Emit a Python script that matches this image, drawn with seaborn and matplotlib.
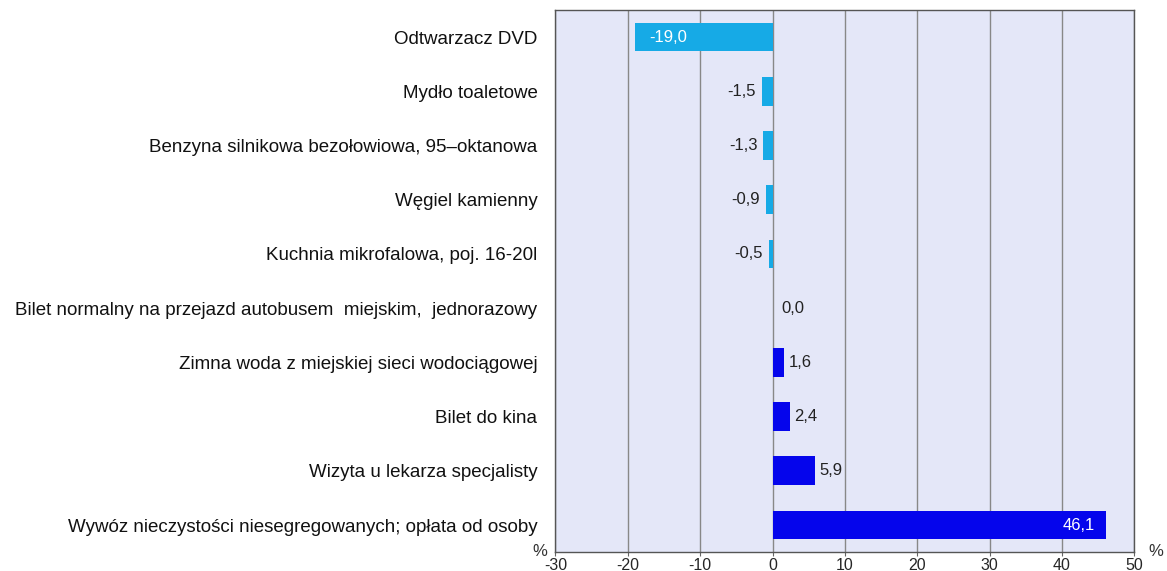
import pandas as pd
import seaborn as sns
import matplotlib.pyplot as plt

# price changes in %
categories = ['Odtwarzacz DVD', 'Mydło toaletowe',
              'Benzyna silnikowa bezołowiowa, 95–oktanowa', 'Węgiel kamienny',
              'Kuchnia mikrofalowa, poj. 16-20l',
              'Bilet normalny na przejazd autobusem  miejskim,  jednorazowy',
              'Zimna woda z miejskiej sieci wodociągowej', 'Bilet do kina',
              'Wizyta u lekarza specjalisty',
              'Wywóz nieczystości niesegregowanych; opłata od osoby']
values = [-19.0, -1.5, -1.3, -0.9, -0.5, 0.0, 1.6, 2.4, 5.9, 46.1]
xticks = [-30, -20, -10, 0, 10, 20, 30, 40, 50]

df = pd.DataFrame({'kategoria': categories, 'zmiana': values})
df['znak'] = ['spadek' if v < 0 else 'wzrost' for v in df['zmiana']]

sns.set_style('white')
plt.rcParams['font.family'] = ['Liberation Sans', 'DejaVu Sans']

fig = plt.figure(figsize=(11.67, 5.71), dpi=100)
ax = fig.add_axes([0.476, 0.033, 0.496, 0.9495])
ax.set_facecolor('#e4e7f8')

ax.grid(axis='x', color='#888888', linewidth=1)
ax.set_axisbelow(True)

sns.barplot(data=df, x='zmiana', y='kategoria', hue='znak', dodge=False,
            palette={'spadek': '#16aae6', 'wzrost': '#0505ec'},
            saturation=1, width=0.53, linewidth=0, legend=False, ax=ax)

ax.set_xlim(-30, 50)
ax.set_xticks(xticks)
ax.set_xticklabels([str(t) for t in xticks], fontsize=11.5)
ax.tick_params(axis='x', length=3, color='#666666', pad=1, bottom=True)
ax.tick_params(axis='y', length=0, labelsize=13.5, pad=13, labelcolor='#111111')
ax.set_xlabel('')
ax.set_ylabel('')
for s in ax.spines.values():
    s.set_color('#555555')
    s.set_linewidth(1)

for i, v in enumerate(values):
    txt = f'{v:.1f}'.replace('.', ',')
    if v <= -10:
        ax.text(v + 2.0, i, txt, color='white', va='center', ha='left', fontsize=12)
    elif v < 0:
        ax.text(v - 0.8, i, txt, color='#222222', va='center', ha='right', fontsize=12)
    elif v >= 10:
        ax.text(v - 1.5, i, txt, color='white', va='center', ha='right', fontsize=12)
    elif v == 0:
        ax.text(1.2, i, txt, color='#222222', va='center', ha='left', fontsize=12)
    else:
        ax.text(v + 0.6, i, txt, color='#222222', va='center', ha='left', fontsize=12)

fig.text(0.456, 0.026, '%', fontsize=12, color='#333333')
fig.text(0.984, 0.026, '%', fontsize=12, color='#333333')

fig.savefig('out.png', dpi=100)
